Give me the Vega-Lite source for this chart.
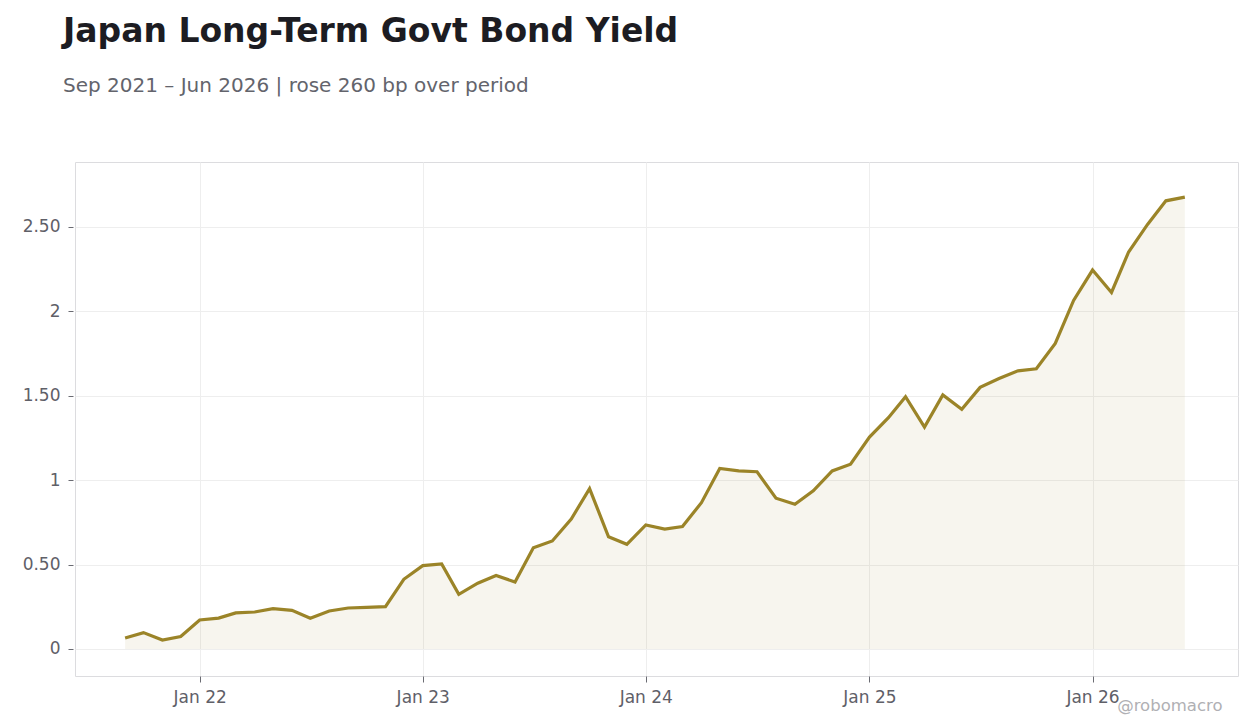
{
  "$schema": "https://vega.github.io/schema/vega-lite/v6.json",
  "autosize": {"type": "none"},
  "padding": {"left": 75, "top": 162, "right": 22, "bottom": 52},
  "width": 1163,
  "height": 514,
  "background": "#ffffff",
  "title": {
    "text": "Japan Long-Term Govt Bond Yield",
    "subtitle": "Sep 2021 – Jun 2026 | rose 260 bp over period",
    "anchor": "start",
    "frame": "group",
    "dx": -12,
    "offset": 66,
    "font": "DejaVu Sans",
    "fontSize": 33,
    "fontWeight": "bold",
    "color": "#1c1c22",
    "subtitleFont": "DejaVu Sans",
    "subtitleFontSize": 20,
    "subtitleColor": "#63646c",
    "subtitlePadding": 27
  },
  "data": {
    "values": [
      {"date": "2021-09-01", "yield": 0.065},
      {"date": "2021-10-01", "yield": 0.097},
      {"date": "2021-11-01", "yield": 0.053},
      {"date": "2021-12-01", "yield": 0.074},
      {"date": "2022-01-01", "yield": 0.172},
      {"date": "2022-02-01", "yield": 0.183},
      {"date": "2022-03-01", "yield": 0.214},
      {"date": "2022-04-01", "yield": 0.219},
      {"date": "2022-05-01", "yield": 0.239},
      {"date": "2022-06-01", "yield": 0.229},
      {"date": "2022-07-01", "yield": 0.182},
      {"date": "2022-08-01", "yield": 0.225},
      {"date": "2022-09-01", "yield": 0.243},
      {"date": "2022-10-01", "yield": 0.247},
      {"date": "2022-11-01", "yield": 0.251},
      {"date": "2022-12-01", "yield": 0.413},
      {"date": "2023-01-01", "yield": 0.494},
      {"date": "2023-02-01", "yield": 0.504},
      {"date": "2023-03-01", "yield": 0.324},
      {"date": "2023-04-01", "yield": 0.39},
      {"date": "2023-05-01", "yield": 0.435},
      {"date": "2023-06-01", "yield": 0.397},
      {"date": "2023-07-01", "yield": 0.6},
      {"date": "2023-08-01", "yield": 0.64},
      {"date": "2023-09-01", "yield": 0.77},
      {"date": "2023-10-01", "yield": 0.95},
      {"date": "2023-11-01", "yield": 0.665},
      {"date": "2023-12-01", "yield": 0.62},
      {"date": "2024-01-01", "yield": 0.735},
      {"date": "2024-02-01", "yield": 0.71},
      {"date": "2024-03-01", "yield": 0.725},
      {"date": "2024-04-01", "yield": 0.867},
      {"date": "2024-05-01", "yield": 1.07},
      {"date": "2024-06-01", "yield": 1.055},
      {"date": "2024-07-01", "yield": 1.05},
      {"date": "2024-08-01", "yield": 0.893},
      {"date": "2024-09-01", "yield": 0.857},
      {"date": "2024-10-01", "yield": 0.937},
      {"date": "2024-11-01", "yield": 1.055},
      {"date": "2024-12-01", "yield": 1.095},
      {"date": "2025-01-01", "yield": 1.255},
      {"date": "2025-02-01", "yield": 1.37},
      {"date": "2025-03-01", "yield": 1.495},
      {"date": "2025-04-01", "yield": 1.315},
      {"date": "2025-05-01", "yield": 1.505},
      {"date": "2025-06-01", "yield": 1.42},
      {"date": "2025-07-01", "yield": 1.55},
      {"date": "2025-08-01", "yield": 1.602},
      {"date": "2025-09-01", "yield": 1.648},
      {"date": "2025-10-01", "yield": 1.66},
      {"date": "2025-11-01", "yield": 1.81},
      {"date": "2025-12-01", "yield": 2.065},
      {"date": "2026-01-01", "yield": 2.245},
      {"date": "2026-02-01", "yield": 2.112},
      {"date": "2026-03-01", "yield": 2.352},
      {"date": "2026-04-01", "yield": 2.515},
      {"date": "2026-05-01", "yield": 2.655},
      {"date": "2026-06-01", "yield": 2.677}
    ]
  },
  "encoding": {
    "x": {
      "field": "date",
      "type": "temporal",
      "scale": {
        "type": "utc",
        "domain": [
          {"year": 2021, "month": 6, "date": 11, "utc": true},
          {"year": 2026, "month": 8, "date": 27, "utc": true}
        ]
      },
      "axis": {
        "labelExpr": "utcFormat(datum.value, '%b %y')",
        "values": [
          {"year": 2022, "month": 1, "date": 1, "utc": true},
          {"year": 2023, "month": 1, "date": 1, "utc": true},
          {"year": 2024, "month": 1, "date": 1, "utc": true},
          {"year": 2025, "month": 1, "date": 1, "utc": true},
          {"year": 2026, "month": 1, "date": 1, "utc": true}
        ],
        "tickSize": 6,
        "labelPadding": 7,
        "title": "@robomacro",
        "titleAnchor": "end",
        "titleAlign": "right",
        "titleBaseline": "middle",
        "titleX": 1147,
        "titleY": 29,
        "titleFontSize": 16.5,
        "titleFontWeight": "normal",
        "titleColor": "#b0b0b4"
      }
    },
    "y": {
      "field": "yield",
      "type": "quantitative",
      "scale": {"domain": [-0.16, 2.885], "nice": false, "zero": false},
      "axis": {
        "values": [0, 0.5, 1, 1.5, 2, 2.5],
        "labelExpr": "datum.value % 1 == 0 ? format(datum.value, 'd') : format(datum.value, '.2f')",
        "offset": 2,
        "tickSize": 5,
        "labelPadding": 8,
        "title": null
      }
    }
  },
  "layer": [
    {
      "mark": {"type": "area", "color": "#9b8428", "opacity": 0.08}
    },
    {
      "mark": {"type": "line", "color": "#9b8428", "strokeWidth": 3.2, "strokeJoin": "miter"}
    }
  ],
  "config": {
    "font": "DejaVu Sans",
    "view": {"stroke": "#dcdcdf", "strokeWidth": 1},
    "axis": {
      "labelFont": "DejaVu Sans",
      "labelFontSize": 17,
      "labelColor": "#5f6068",
      "titleFont": "DejaVu Sans",
      "grid": true,
      "gridColor": "#eeeeee",
      "gridWidth": 1,
      "domain": false,
      "tickColor": "#6a6b72"
    }
  }
}
